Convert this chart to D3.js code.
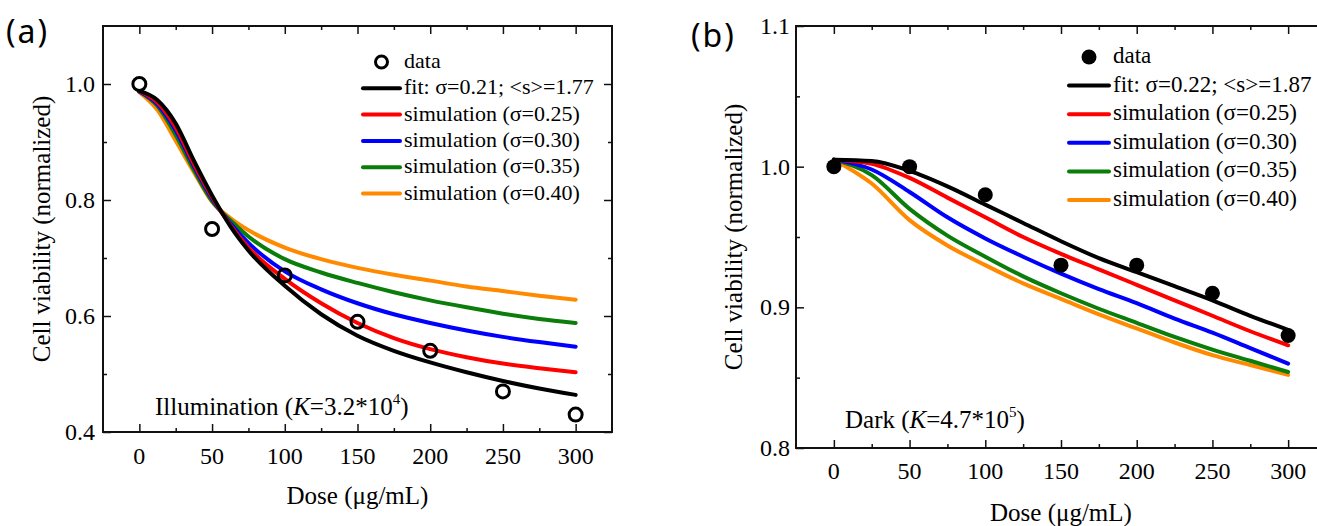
<!DOCTYPE html>
<html>
<head>
<meta charset="utf-8">
<script src="https://cdn.jsdelivr.net/npm/d3@7"></script>
<style>
  body { margin: 0; background: #fff; }
  svg { display: block; }
</style>
</head>
<body>
<svg id="chart" width="1317" height="526"></svg>
<script>
// ---- data, panel (a): illumination ----
const doseA = [0, 12.5, 25, 37.5, 50, 62.5, 75, 100, 125, 150, 175, 200, 225, 250, 275, 300]
const fitA = [0.988, 0.972, 0.932, 0.868, 0.808, 0.755, 0.713, 0.652, 0.603, 0.566, 0.540, 0.520, 0.503, 0.488, 0.475, 0.464]
const sim25A = [0.988, 0.968, 0.925, 0.862, 0.805, 0.757, 0.718, 0.664, 0.622, 0.588, 0.562, 0.543, 0.529, 0.518, 0.510, 0.503]
const sim30A = [0.987, 0.965, 0.920, 0.858, 0.802, 0.760, 0.726, 0.677, 0.646, 0.622, 0.603, 0.588, 0.575, 0.564, 0.555, 0.547]
const sim35A = [0.987, 0.962, 0.912, 0.852, 0.798, 0.765, 0.737, 0.698, 0.675, 0.657, 0.641, 0.627, 0.615, 0.604, 0.595, 0.588]
const sim40A = [0.986, 0.955, 0.902, 0.848, 0.797, 0.769, 0.748, 0.718, 0.698, 0.683, 0.671, 0.661, 0.651, 0.643, 0.635, 0.628]
const pointDoseA = [0, 50, 100, 150, 200, 250, 300]
const pointsA = [1.0, 0.75, 0.67, 0.59, 0.54, 0.47, 0.43]

// ---- data, panel (b): dark ----
const doseB = [0, 25, 50, 75, 100, 125, 150, 175, 200, 225, 250, 275, 300]
const fitB = [1.005, 1.004, 0.997, 0.986, 0.973, 0.960, 0.947, 0.935, 0.925, 0.915, 0.905, 0.894, 0.884]
const sim25B = [1.005, 1.002, 0.992, 0.978, 0.964, 0.950, 0.938, 0.927, 0.916, 0.905, 0.894, 0.883, 0.873]
const sim30B = [1.005, 0.998, 0.982, 0.964, 0.949, 0.936, 0.924, 0.913, 0.903, 0.892, 0.882, 0.871, 0.860]
const sim35B = [1.005, 0.994, 0.970, 0.951, 0.936, 0.922, 0.910, 0.899, 0.889, 0.879, 0.870, 0.862, 0.854]
const sim40B = [1.005, 0.988, 0.962, 0.944, 0.930, 0.917, 0.906, 0.895, 0.885, 0.875, 0.866, 0.859, 0.852]
const pointDoseB = [0, 50, 100, 150, 200, 250, 300]
const pointsB = [1.0, 1.0, 0.98, 0.93, 0.93, 0.91, 0.88]

const xTicks = [0, 50, 100, 150, 200, 250, 300]
const xMinor = [25, 75, 125, 175, 225, 275]
const yTicksA = [0.4, 0.6, 0.8, 1.0]
const yMinorA = [0.5, 0.7, 0.9]
const yTicksB = [0.8, 0.9, 1.0, 1.1]
const yMinorB = [0.85, 0.95, 1.05]

const seriesNames = ["simulation (σ=0.25)", "simulation (σ=0.30)", "simulation (σ=0.35)", "simulation (σ=0.40)"]
const colors = ["#000000", "#ff0000", "#0000ff", "#0a7d0a", "#ff8a00"]

const svg = d3.select("#chart")
svg.append("rect").attr("width", 1317).attr("height", 526).attr("fill", "#fff")

const serif = "'Liberation Serif', 'Times New Roman', serif"

panel = cfg => {
    const x = d3.scaleLinear().domain([-25, 325]).range([cfg.left, cfg.right])
    const y = d3.scaleLinear().domain(cfg.yDomain).range([cfg.bottom, cfg.top])
    const g = svg.append("g")

    // frame
    g.append("rect")
        .attr("x", cfg.left).attr("y", cfg.top)
        .attr("width", cfg.right - cfg.left).attr("height", cfg.bottom - cfg.top)
        .attr("fill", "none").attr("stroke", "#111").attr("stroke-width", 2)

    // inward ticks on all four sides
    const put = (axis, vals, size, tr) => g.append("g").attr("transform", tr)
        .call(axis.tickValues(vals).tickSize(size).tickFormat(""))
        .call(s => s.select(".domain").remove())
        .call(s => s.selectAll("line").attr("stroke", "#111").attr("stroke-width", 1.5))
    put(d3.axisTop(x), xTicks, 8, `translate(0,${cfg.bottom})`)
    put(d3.axisTop(x), xMinor, 4, `translate(0,${cfg.bottom})`)
    put(d3.axisBottom(x), xTicks, 8, `translate(0,${cfg.top})`)
    put(d3.axisBottom(x), xMinor, 4, `translate(0,${cfg.top})`)
    put(d3.axisRight(y), cfg.yTicks, 8, `translate(${cfg.left},0)`)
    put(d3.axisRight(y), cfg.yMinor, 4, `translate(${cfg.left},0)`)
    put(d3.axisLeft(y), cfg.yTicks, 8, `translate(${cfg.right},0)`)
    put(d3.axisLeft(y), cfg.yMinor, 4, `translate(${cfg.right},0)`)

    // tick labels
    g.append("g").attr("font-family", serif).attr("font-size", 24).attr("text-anchor", "middle")
        .selectAll("text").data(xTicks).join("text")
        .attr("x", d => x(d)).attr("y", cfg.bottom + cfg.xLabelDy)
        .text(d => d)
    g.append("g").attr("font-family", serif).attr("font-size", 24).attr("text-anchor", "end")
        .selectAll("text").data(cfg.yTicks).join("text")
        .attr("x", cfg.left - cfg.yLabelDx).attr("y", d => y(d) + 8)
        .text(d => d.toFixed(1))

    // axis titles
    g.append("text").attr("font-family", serif).attr("font-size", 25).attr("text-anchor", "middle")
        .attr("x", x(150)).attr("y", cfg.xTitleY).text("Dose (μg/mL)")
    g.append("text").attr("font-family", serif).attr("font-size", 25).attr("text-anchor", "middle")
        .attr("transform", `translate(${cfg.yTitleX},${(cfg.top + cfg.bottom) / 2}) rotate(-90)`)
        .text("Cell viability (normalized)")

    // curves
    const line = d3.line().x(d => x(d[0])).y(d => y(d[1])).curve(d3.curveMonotoneX)
    const curves = cfg.curves.slice().reverse()
    const cols = colors.slice().reverse()
    g.append("g").attr("fill", "none").attr("stroke-width", cfg.lineW).attr("stroke-linecap", "round")
        .selectAll("path").data(curves).join("path")
        .attr("stroke", (d, i) => cols[i])
        .attr("d", d => line(cfg.dose.map((v, j) => [v, d[j]])))

    // data points
    g.append("g").selectAll("circle").data(cfg.points).join("circle")
        .attr("cx", (d, i) => x(cfg.pointDose[i])).attr("cy", d => y(d))
        .attr("r", cfg.filled ? 7.5 : 6.5)
        .attr("fill", cfg.filled ? "#000" : "none")
        .attr("stroke", "#000").attr("stroke-width", cfg.filled ? 0 : 3)

    // legend
    const lg = g.append("g").attr("font-family", serif).attr("font-size", cfg.legendFont)
    const labels = ["data", cfg.fitLabel].concat(seriesNames)
    labels.forEach((t, i) => {
        const ly = cfg.legendY + i * cfg.legendStep
        if (i === 0) {
            lg.append("circle").attr("cx", (cfg.legendX0 + cfg.legendX1) / 2).attr("cy", ly)
                .attr("r", cfg.filled ? 7.5 : 6)
                .attr("fill", cfg.filled ? "#000" : "#fff")
                .attr("stroke", "#000").attr("stroke-width", cfg.filled ? 0 : 3)
        } else {
            lg.append("line").attr("x1", cfg.legendX0).attr("x2", cfg.legendX1)
                .attr("y1", ly).attr("y2", ly)
                .attr("stroke", colors[i - 1]).attr("stroke-width", cfg.lineW)
                .attr("stroke-linecap", "round")
        }
        lg.append("text").attr("x", cfg.legendX1 + 4).attr("y", ly + 6).text(t)
    })

    // annotation
    const ann = g.append("text").attr("font-family", serif).attr("font-size", 25)
        .attr("x", cfg.annX).attr("y", cfg.annY)
    ann.append("tspan").text(cfg.annPrefix + " (")
    ann.append("tspan").attr("font-style", "italic").text("K")
    ann.append("tspan").text("=" + cfg.annValue + "*10")
    ann.append("tspan").attr("font-size", 15).attr("dy", -11).text(cfg.annExp)
    ann.append("tspan").attr("dy", 11).text(")")

    // panel letter
    svg.append("text").attr("font-family", "'Noto Sans', sans-serif").attr("font-size", 32)
        .attr("letter-spacing", 2)
        .attr("x", cfg.letterX).attr("y", cfg.letterY).text(cfg.letter)
}

panel({
    left: 103, right: 612, top: 26, bottom: 432,
    yDomain: [0.4, 1.1], yTicks: yTicksA, yMinor: yMinorA,
    xLabelDy: 32, yLabelDx: 8, xTitleY: 504, yTitleX: 50,
    dose: doseA, curves: [fitA, sim25A, sim30A, sim35A, sim40A],
    pointDose: pointDoseA, points: pointsA, filled: false, lineW: 4,
    fitLabel: "fit: σ=0.21; <s>=1.77",
    legendX0: 363, legendX1: 400, legendY: 62, legendStep: 26.3, legendFont: 22,
    annX: 155, annY: 415, annPrefix: "Illumination", annValue: "3.2", annExp: "4",
    letter: "(a)", letterX: 6, letterY: 43
})

panel({
    left: 796, right: 1326, top: 26, bottom: 448,
    yDomain: [0.8, 1.1], yTicks: yTicksB, yMinor: yMinorB,
    xLabelDy: 31, yLabelDx: 6, xTitleY: 521, yTitleX: 742,
    dose: doseB, curves: [fitB, sim25B, sim30B, sim35B, sim40B],
    pointDose: pointDoseB, points: pointsB, filled: true, lineW: 4,
    fitLabel: "fit: σ=0.22; <s>=1.87",
    legendX0: 1069, legendX1: 1109, legendY: 57, legendStep: 28.6, legendFont: 23,
    annX: 845, annY: 428, annPrefix: "Dark", annValue: "4.7", annExp: "5",
    letter: "(b)", letterX: 691, letterY: 47
})
</script>
</body>
</html>
